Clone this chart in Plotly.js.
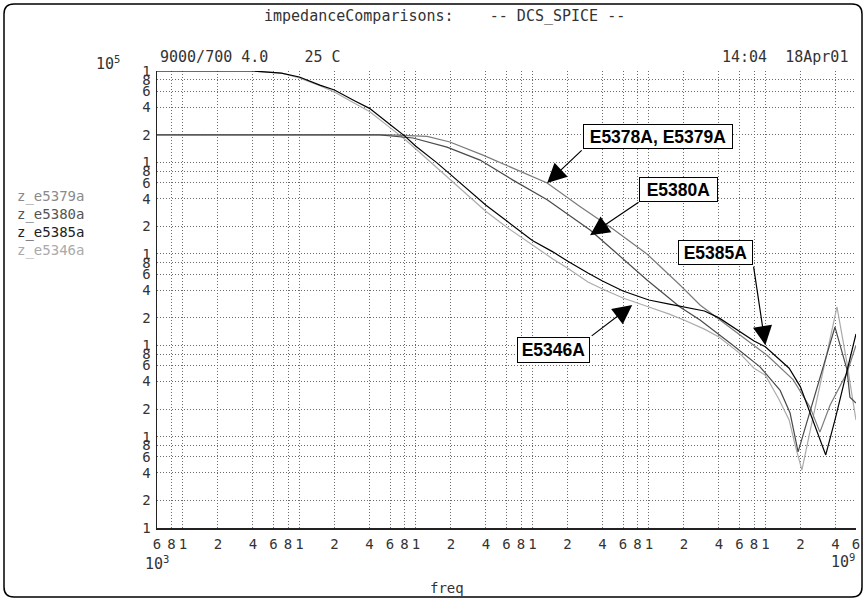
<!DOCTYPE html>
<html><head><meta charset="utf-8">
<script src="https://cdn.plot.ly/plotly-3.0.1.min.js"></script>
<style>html,body{margin:0;padding:0;background:#fff;}#chart{width:867px;height:601px;}</style>
</head><body><div id="chart"></div>
<script>
// ---- data ----
const seriesNames = ["z_e5379a", "z_e5380a", "z_e5385a", "z_e5346a"];

const freqE5379A = [6e3, 6e5, 1.25e6, 1.96e6, 3.77e6, 7.38e6, 1.34e7, 2.56e7, 4.92e7, 9.64e7, 1.85e8, 2.75e8, 5.27e8, 1.03e9, 1.73e9, 2.42e9, 2.94e9, 3.59e9, 5.02e9, 6e9];
const zE5379A    = [2e4, 2e4, 1.93e4, 1.67e4, 1.2e4, 8.3e3, 5.95e3, 3.3e3, 1.87e3, 995, 456, 275, 147, 78, 42, 21, 11.2, 22, 50, 100];

const freqE5380A = [6e3, 4.9e5, 9.45e5, 1.85e6, 3.56e6, 6.82e6, 1.34e7, 3.13e7, 4.92e7, 9.64e7, 1.85e8, 2.75e8, 5.27e8, 9.0e8, 1.34e9, 1.63e9, 1.91e9, 2.32e9, 2.83e9, 3.45e9, 3.96e9, 5.02e9, 5.32e9, 6e9];
const zE5380A    = [2e4, 2e4, 1.85e4, 1.47e4, 1.06e4, 6.4e3, 3.9e3, 1.82e3, 1.1e3, 517, 262, 189, 100, 58, 32, 18.1, 6.8, 16, 37.6, 89, 158, 54, 27, 23.3];

const freqE5385A = [6e3, 4e4, 7e4, 1e5, 1.5e5, 2e5, 3e5, 4e5, 6e5, 8e5, 1e6, 1.5e6, 2e6, 3e6, 4e6, 6e6, 1e7, 1.5e7, 2e7, 3e7, 4e7, 6e7, 1e8, 1.5e8, 2e8, 3e8, 4e8, 6e8, 8e8, 1e9, 1.3e9, 1.6e9, 2e9, 2.4e9, 2.8e9, 3.3e9, 4e9, 4.5e9, 5e9, 6e9];
const zE5385A    = [1e5, 1e5, 9.5e4, 8.6e4, 7.0e4, 6.2e4, 4.7e4, 3.9e4, 2.6e4, 1.95e4, 1.5e4, 1.0e4, 7.3e3, 4.7e3, 3.4e3, 2.3e3, 1.4e3, 1.05e3, 834, 617, 504, 392, 312, 282, 262, 237, 199, 143, 111, 96, 72, 56, 35, 18.6, 10.9, 6.3, 16, 30, 51, 133];

const freqE5346A = [6e3, 4e4, 7e4, 1e5, 1.5e5, 2e5, 3e5, 4e5, 6e5, 8e5, 1e6, 1.5e6, 2e6, 3e6, 4e6, 6e6, 1e7, 1.5e7, 2e7, 3e7, 4e7, 6e7, 1e8, 1.5e8, 2e8, 3e8, 4e8, 6e8, 8e8, 1e9, 1.3e9, 1.6e9, 1.8e9, 2.06e9, 2.42e9, 2.77e9, 3.19e9, 3.52e9, 4.12e9, 4.55e9, 5.02e9, 5.54e9, 6e9];
const zE5346A    = [1e5, 1e5, 9.5e4, 8.4e4, 6.9e4, 5.9e4, 4.4e4, 3.6e4, 2.4e4, 1.8e4, 1.4e4, 8.9e3, 6.4e3, 4.1e3, 2.9e3, 1.96e3, 1.25e3, 877, 700, 491, 412, 328, 262, 219, 189, 150, 123, 82, 56, 47, 26, 15.2, 8.1, 4.3, 11.5, 25.8, 58, 103, 262, 129, 64, 28.5, 15.2];

const tickDigits = [1, 2, 4, 6, 8];
const xDecades = [3, 4, 5, 6, 7, 8, 9];
const yDecades = [0, 1, 2, 3, 4, 5];
const xRange = [6e3, 6e9];
const yRange = [1, 1e5];

const calloutTexts = ["E5378A, E5379A", "E5380A", "E5385A", "E5346A"];
const calloutFreq  = [1.34e7, 3.13e7, 1.0e9, 7.2e7];
const calloutZ     = [5.95e3, 1.6e3, 100, 275];

// ---- styling ----
const lineColors = ["#7a7a7a", "#4a4a4a", "#000000", "#ababab"];
const legendColors = ["#8a8a8a", "#555555", "#222222", "#aaaaaa"];
const mono = "DejaVu Sans Mono, Liberation Mono, monospace";
const boldSans = "Liberation Sans, Arial, sans-serif";

function buildTicks(decades, lo, hi) {
  const vals = [], text = [];
  decades.forEach(d => tickDigits.forEach(k => {
    const v = k * Math.pow(10, d);
    if (v >= lo * 0.999 && v <= hi * 1.001) { vals.push(v); text.push(String(k)); }
  }));
  return {vals, text};
}
const xt = buildTicks(xDecades, xRange[0], xRange[1]);
const yt = buildTicks(yDecades, yRange[0], yRange[1]);

// plot-area geometry in pixels
const W = 867, H = 601, L = 157, R = 856, T = 71, B = 528;
const pw = R - L, ph = B - T;
const PX = x => (x - L) / pw;
const PY = y => (B - y) / ph;

const series = [
  [freqE5379A, zE5379A], [freqE5380A, zE5380A], [freqE5385A, zE5385A], [freqE5346A, zE5346A]
];
const traces = series.map((s, i) => ({
  type: "scatter", mode: "lines", x: s[0], y: s[1], name: seriesNames[i],
  line: {color: lineColors[i], width: 1.2}, hoverinfo: "skip"
}));
const order = [3, 0, 1, 2];
const data = order.map(i => traces[i]);

const annotations = [];
function txt(text, x, y, xa, opts) {
  annotations.push(Object.assign({
    text: text, xref: "paper", yref: "paper", x: PX(x), y: PY(y), xanchor: xa, yanchor: "middle",
    showarrow: false, font: {family: mono, size: 14, color: "#333"}
  }, opts || {}));
}
txt("9000/700 4.0    25 C", 158, 57, "left", {font: {family: mono, size: 15, color: "#333"}});
txt("14:04  18Apr01", 850, 57, "right", {font: {family: mono, size: 15, color: "#333"}});
txt("10<sup>5</sup>", 122, 63, "right", {font: {family: mono, size: 15, color: "#333"}});
txt("10<sup>3</sup>", 143, 563, "left", {font: {family: mono, size: 15, color: "#333"}});
txt("10<sup>9</sup>", 857, 561, "right", {font: {family: mono, size: 15, color: "#333"}});
txt("freq", 447, 588, "center", {font: {family: mono, size: 14, color: "#333"}});
const legendY = [197, 214, 232, 250];
seriesNames.forEach((n, i) => txt(n, 15, legendY[i], "left", {font: {family: mono, size: 14, color: legendColors[i]}}));

// callout boxes
const boxCenters = [[658, 136.5], [678.5, 189.5], [715.5, 252.5], [553.5, 350]];
const boxSizes = [[146, 21], [75, 21], [71, 21], [69, 22]];
calloutTexts.forEach((t, i) => {
  annotations.push({
    text: "<b>" + t + "</b>", xref: "paper", yref: "paper",
    x: PX(boxCenters[i][0]), y: PY(boxCenters[i][1]), xanchor: "center", yanchor: "middle",
    showarrow: false, width: boxSizes[i][0], height: boxSizes[i][1],
    font: {family: boldSans, size: 17.5, color: "#000"},
    bgcolor: "#fff", bordercolor: "#000", borderwidth: 1, borderpad: 1
  });
});
// arrows (tail offsets in px from the tip)
const arrowTails = [[36, -34], [50, -34], [-12, -80], [-42, 32]];
calloutTexts.forEach((t, i) => {
  annotations.push({
    text: "", xref: "x", yref: "y", x: Math.log10(calloutFreq[i]), y: Math.log10(calloutZ[i]),
    showarrow: true, ax: arrowTails[i][0], ay: arrowTails[i][1],
    arrowhead: 2, arrowsize: 3.2, arrowwidth: 1.2, arrowcolor: "#000"
  });
});

// rounded page frame
const fx0 = PX(4), fx1 = PX(862), fyT = PY(4), fyB = PY(597);
const rx = 10 / pw, ry = 10 / ph;
const framePath = `M${fx0 + rx},${fyT} L${fx1 - rx},${fyT} Q${fx1},${fyT} ${fx1},${fyT - ry} ` +
  `L${fx1},${fyB + ry} Q${fx1},${fyB} ${fx1 - rx},${fyB} L${fx0 + rx},${fyB} Q${fx0},${fyB} ${fx0},${fyB + ry} ` +
  `L${fx0},${fyT - ry} Q${fx0},${fyT} ${fx0 + rx},${fyT} Z`;

const axisCommon = {
  type: "log", tickmode: "array", showgrid: true, gridcolor: "#6a6a6a", griddash: "1px,2px", gridwidth: 1,
  showline: true, linecolor: "#222", linewidth: 1.5, ticks: "", zeroline: false, mirror: false,
  tickfont: {family: mono, size: 14, color: "#333"}, fixedrange: true
};

const layout = {
  width: W, height: H,
  margin: {l: L, r: W - R, t: T, b: H - B, pad: 0},
  paper_bgcolor: "#fff", plot_bgcolor: "#fff",
  showlegend: false,
  font: {family: mono, color: "#333"},
  title: {text: "impedanceComparisons:    -- DCS_SPICE --", xref: "container", yref: "container",
          x: 264 / W, xanchor: "left", y: 1 - 16 / H, yanchor: "middle",
          font: {family: mono, size: 15, color: "#333"}},
  xaxis: Object.assign({}, axisCommon, {
    range: [Math.log10(xRange[0]), Math.log10(xRange[1])], tickvals: xt.vals, ticktext: xt.text,
    tickangle: 0, ticklabelstandoff: 3
  }),
  yaxis: Object.assign({}, axisCommon, {
    range: [Math.log10(yRange[0]), Math.log10(yRange[1])], tickvals: yt.vals, ticktext: yt.text,
    ticklabelstandoff: 2
  }),
  annotations: annotations,
  shapes: [{type: "path", xref: "paper", yref: "paper", path: framePath, line: {color: "#000", width: 1.5}, layer: "above"}]
};

Plotly.newPlot("chart", data, layout, {displayModeBar: false, staticPlot: true});
</script>
</body></html>
